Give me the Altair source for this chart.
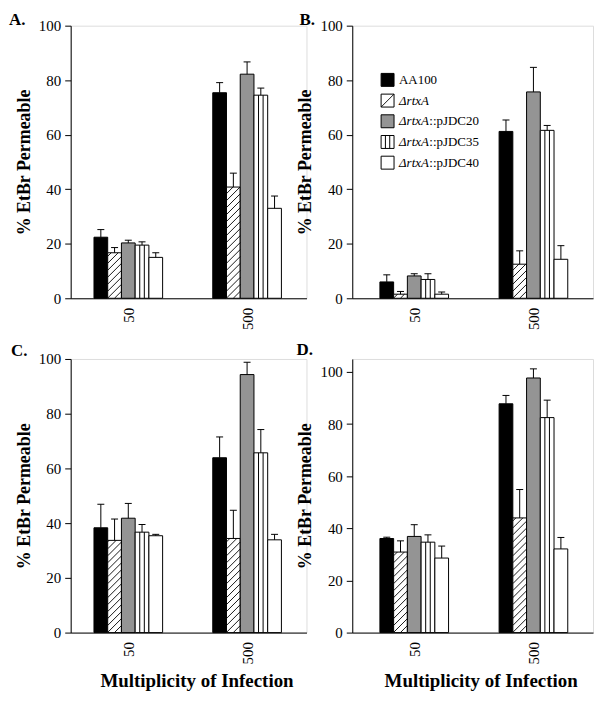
import altair as alt
import pandas as pd
import numpy as np

# ---------------- data ----------------
series = ["AA100", "ΔrtxA", "ΔrtxA::pJDC20", "ΔrtxA::pJDC35", "ΔrtxA::pJDC40"]
series_italic = ["", "ΔrtxA", "ΔrtxA", "ΔrtxA", "ΔrtxA"]
series_roman = ["AA100", "", "::pJDC20", "::pJDC35", "::pJDC40"]
moi = ["50", "500"]
fills = ["#000000", "#ffffff", "#949494", "#ffffff", "#ffffff"]

# panel A
a_50 = [22.4, 16.7, 20.3, 19.5, 15.0]
a_50_top = [25.2, 18.6, 21.3, 20.7, 16.7]
a_500 = [75.4, 40.8, 82.2, 74.5, 33.0]
a_500_top = [79.1, 45.9, 86.7, 77.1, 37.5]
# panel B
b_50 = [6.0, 1.5, 8.2, 6.9, 1.5]
b_50_top = [8.6, 2.5, 9.0, 9.0, 2.3]
b_500 = [61.2, 12.5, 75.7, 61.6, 14.3]
b_500_top = [65.4, 17.4, 84.7, 63.4, 19.3]
# panel C
c_50 = [38.3, 33.7, 41.8, 36.7, 35.4]
c_50_top = [46.9, 41.5, 47.2, 39.5, 35.9]
c_500 = [63.9, 34.4, 94.3, 65.7, 33.9]
c_500_top = [71.5, 44.7, 98.8, 74.2, 35.9]
# panel D
d_50 = [36.1, 30.9, 36.9, 34.7, 28.6]
d_50_top = [36.6, 35.2, 41.4, 37.5, 33.2]
d_500 = [87.8, 44.0, 97.7, 82.5, 32.1]
d_500_top = [91.0, 54.9, 101.2, 89.2, 36.5]

FONT = "Liberation Serif"
BAR_PX = 13.8
HATCH_PX = 7.0
CAP_PX = 3.5


def panel(letter, vals, tops, W, H, xdom, ymax, xtitle, letter_xy, legend=False):
    pxx = W / (xdom[1] - xdom[0])
    pxy = H / ymax
    bw = BAR_PX / pxx

    bars, hatch, vlines, errs = [], [], [], []

    def add_hatch(x0, h_px, bw_px, single=False, y0=0.0):
        if single:
            hatch.append(dict(hx=x0, hy=y0, hx2=x0 + bw_px / pxx, hy2=y0 + h_px / pxy))
            return
        for c in np.arange(-bw_px, h_px, HATCH_PX):
            xlo = max(0.0, -c)
            xhi = min(bw_px, h_px - c)
            if xhi > xlo:
                hatch.append(dict(hx=x0 + xlo / pxx, hy=y0 + (xlo + c) / pxy,
                                  hx2=x0 + xhi / pxx, hy2=y0 + (xhi + c) / pxy))

    for g in range(len(moi)):
        for s, name in enumerate(series):
            v = vals[g][s]
            t = tops[g][s]
            c = g + 0.5 + (s - 2) * bw
            x0, x1 = c - bw / 2, c + bw / 2
            bars.append(dict(x0=x0, x1=x1, v=v, z=0.0, series=name))
            if s == 1:
                add_hatch(x0, v * pxy, BAR_PX)
            if s == 3:
                for k in (1, 2):
                    vlines.append(dict(vx=x0 + k * bw / 3, vy=0.0, vy2=v))
            errs.append(dict(ex=c, ey=v, ey2=t, cx=c - CAP_PX / pxx, cx2=c + CAP_PX / pxx))

    leg_rows = []
    if legend:
        box = 13.0
        for i, name in enumerate(series):
            cy = 54.5 + i * 20.8
            lx0 = xdom[0] + 29 / pxx
            ly_top = ymax - (cy - box / 2) / pxy
            ly_bot = ymax - (cy + box / 2) / pxy
            bars.append(dict(x0=lx0, x1=lx0 + box / pxx, v=ly_top, z=ly_bot, series=name))
            if i == 1:
                add_hatch(lx0, box, box, single=True, y0=ly_bot)
            if i == 3:
                for k in (1, 2):
                    vlines.append(dict(vx=lx0 + k * box / pxx / 3, vy=ly_bot, vy2=ly_top))
            tx = xdom[0] + 47 / pxx
            rx = tx + (30.5 / pxx if series_italic[i] else 0.0)
            leg_rows.append(dict(tx=tx, rx=rx, ty=ymax - cy / pxy,
                                 it=series_italic[i], ro=series_roman[i]))

    bars_df = pd.DataFrame(bars)
    xscale = alt.Scale(domain=list(xdom), nice=False, zero=False)
    yscale = alt.Scale(domain=[0, ymax], nice=False, zero=True)

    label_expr = "[" + ",".join("'%s'" % m for m in moi) + "][round(datum.value - 0.5)]"
    xaxis_kw = dict(values=[0.5 + i for i in range(len(moi))], labelExpr=label_expr, ticks=False,
                    grid=False, labelAngle=-90, labelPadding=9, labelFont=FONT, labelFontSize=15,
                    labelColor="black", domainColor="black", labelFlush=False)
    if xtitle:
        xaxis_kw.update(title=xtitle, titleFont=FONT, titleFontSize=19, titleFontWeight="bold",
                        titleColor="black", titlePadding=8, titleX=W / 2 + 8)
    else:
        xaxis_kw.update(title=None)
    xaxis = alt.Axis(**xaxis_kw)

    yaxis = alt.Axis(values=list(range(0, 101, 10)),
                     labelExpr="datum.value % 20 === 0 ? datum.label : ''",
                     tickSize={"condition": {"test": "datum.value % 20 === 0", "value": 6}, "value": 3},
                     grid=False, domainColor="black", tickColor="black", labelFont=FONT,
                     labelFontSize=15, labelColor="black", labelPadding=4,
                     title="% EtBr Permeable", titleFont=FONT, titleFontSize=18,
                     titleFontWeight="bold", titleColor="black", titlePadding=5)

    base_bars = alt.Chart(bars_df).mark_rect(stroke="black", strokeWidth=1).encode(
        x=alt.X("x0:Q", scale=xscale, axis=xaxis),
        x2="x1:Q",
        y=alt.Y("v:Q", scale=yscale, axis=yaxis),
        y2="z:Q",
        fill=alt.Fill("series:N", scale=alt.Scale(domain=series, range=fills), legend=None),
    )
    layers = [base_bars]

    hatch_layer = alt.Chart(pd.DataFrame(hatch)).mark_rule(color="black", strokeWidth=0.9).encode(
        x="hx:Q", y="hy:Q", x2="hx2:Q", y2="hy2:Q")
    vline_layer = alt.Chart(pd.DataFrame(vlines)).mark_rule(color="black", strokeWidth=1).encode(
        x="vx:Q", y="vy:Q", y2="vy2:Q")
    edf = pd.DataFrame(errs)
    err_layer = alt.Chart(edf).mark_rule(color="black", strokeWidth=1).encode(
        x="ex:Q", y="ey:Q", y2="ey2:Q")
    cap_layer = alt.Chart(edf).mark_rule(color="black", strokeWidth=1).encode(
        x="cx:Q", x2="cx2:Q", y="ey2:Q")
    layers += [hatch_layer, vline_layer, err_layer, cap_layer]

    if legend:
        ldf = pd.DataFrame(leg_rows)
        it_layer = alt.Chart(ldf).mark_text(align="left", baseline="middle", font=FONT,
                                            fontSize=13, fontStyle="italic", color="black").encode(
            x="tx:Q", y="ty:Q", text="it:N")
        ro_layer = alt.Chart(ldf).mark_text(align="left", baseline="middle", font=FONT,
                                            fontSize=13, color="black").encode(
            x="rx:Q", y="ty:Q", text="ro:N")
        layers += [it_layer, ro_layer]

    letter_layer = alt.Chart(pd.DataFrame({"t": [letter]})).mark_text(
        align="left", baseline="top", font=FONT, fontSize=17, fontWeight="bold", color="black"
    ).encode(text="t:N", x=alt.value(letter_xy[0]), y=alt.value(letter_xy[1]))
    layers.append(letter_layer)

    return alt.layer(*layers).properties(width=W, height=H)


A = panel("A.", [a_50, a_500], [a_50_top, a_500_top], 237, 274, (0.015, 2.0), 100, None, (-62, -14))
B = panel("B.", [b_50, b_500], [b_50_top, b_500_top], 242, 274, (-0.02, 2.0), 100, None, (-53, -14), legend=True)
C = panel("C.", [c_50, c_500], [c_50_top, c_500_top], 237, 275, (0.015, 2.0), 100,
          "Multiplicity of Infection", (-60, -16))
D = panel("D.", [d_50, d_500], [d_50_top, d_500_top], 242, 275, (-0.02, 2.0), 105,
          "Multiplicity of Infection", (-56, -17))

chart = alt.concat(A, B, C, D, columns=2, spacing={"row": 61, "column": 46}, bounds="flush").properties(
    padding={"left": 0, "top": 0, "right": 5, "bottom": 5}
).configure_view(stroke=None).configure(background="white", font=FONT).configure_axis(
    labelFont=FONT, titleFont=FONT
).configure_text(font=FONT)

chart.save("out.html", embed_options={"renderer": "svg", "actions": False})
